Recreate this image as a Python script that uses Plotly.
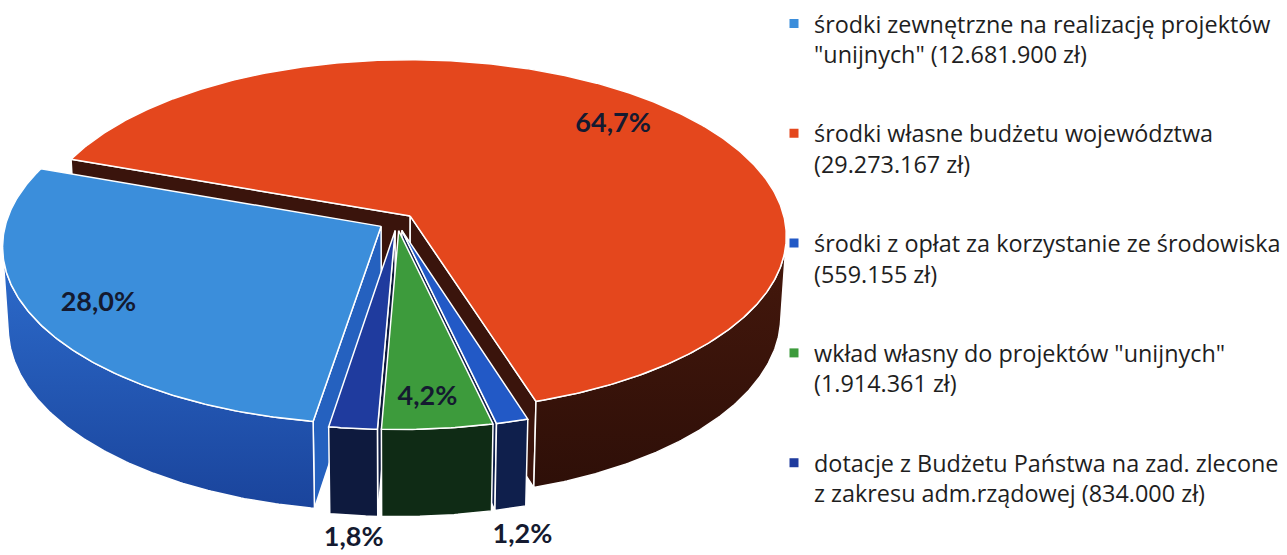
import numpy as np
import plotly.graph_objects as go

# ---------------- data ----------------
categories = [
    'środki zewnętrzne na realizację projektów<br>"unijnych" (12.681.900 zł)',
    'środki własne budżetu województwa<br>(29.273.167 zł)',
    'środki z opłat za korzystanie ze środowiska<br>(559.155 zł)',
    'wkład własny do projektów "unijnych"<br>(1.914.361 zł)',
    'dotacje z Budżetu Państwa na zad. zlecone<br>z zakresu adm.rządowej (834.000 zł)',
]
values = [12681900, 29273167, 559155, 1914361, 834000]

# ---------------- style ----------------
top_colors = ['#3b8edb', '#e4471d', '#2259c6', '#3d9b3c', '#1f3b9e']
side_colors = ['#2561bf', '#3a140c', '#0f1f4c', '#0f2b15', '#0e1a3e']
side_grad = {0: [[0, '#1a449c'], [1, '#2d6ccc']], 1: [[0, '#2e0f08'], [1, '#45180c']]}
label_color = '#141a30'

W, H = 1287, 555
CX, CY = 397, 222          # screen position of pie centre
S = 375                    # screen scale (px per radius)
K = 8.0                    # camera distance in radii
ALPHA = np.radians(27.8)   # elevation
DEPTH = 0.245              # pie thickness in radii
EXPLODE = 0.049            # pull of each slice in radii
START = 189.0              # start angle of first slice (deg, clockwise from back)
LABEL_R = [0.83, 0.8, None, 0.88, None]      # None -> label outside, below the slice
LABEL_NUDGE = {2: (12, 28), 3: (-5, -4), 4: (0, 24)}

ca, sa = np.cos(ALPHA), np.sin(ALPHA)
CAM = np.array([0.0, -K * ca, K * sa])


def proj(X, Y, Z):
    X = np.asarray(X, float); Y = np.asarray(Y, float); Z = np.asarray(Z, float)
    depth = K + Y * ca - Z * sa
    px = S * K * X / depth
    py = S * K * (Y * sa + Z * ca) / depth
    return CX + px, CY - py, depth


total = float(sum(values))
fracs = [v / total for v in values]
angles = []
a = START
for f in fracs:
    angles.append((a, a + f * 360.0))
    a += f * 360.0

walls = []   # (depth, xs, ys, color, idx, outer)
tops = []
label_pos = []

for i, (a0, a1) in enumerate(angles):
    m = np.radians((a0 + a1) / 2)
    ox, oy = EXPLODE * np.sin(m), EXPLODE * np.cos(m)
    th = np.radians(np.linspace(a0, a1, max(8, int((a1 - a0) * 2))))
    rx, ry = ox + np.sin(th), oy + np.cos(th)

    # top face
    X = np.concatenate([[ox], rx, [ox]])
    Y = np.concatenate([[oy], ry, [oy]])
    xs, ys, _ = proj(X, Y, np.zeros_like(X))
    tops.append((xs, ys, top_colors[i]))

    # outer wall: visible samples
    vis = (np.sin(th) * (CAM[0] - rx) + np.cos(th) * (CAM[1] - ry)) > 0
    idx = np.where(vis)[0]
    if len(idx) > 1:
        groups = np.split(idx, np.where(np.diff(idx) != 1)[0] + 1)
        for g in groups:
            if len(g) < 2:
                continue
            tx, ty, td = proj(rx[g], ry[g], np.zeros(len(g)))
            bx, by, _ = proj(rx[g], ry[g], -DEPTH * np.ones(len(g)))
            walls.append((td.mean(), np.concatenate([tx, bx[::-1], tx[:1]]),
                          np.concatenate([ty, by[::-1], ty[:1]]), side_colors[i], i, True))

    # radial walls
    for ang, sign in ((a0, -1), (a1, 1)):
        t = np.radians(ang)
        n = np.array([sign * np.cos(t), -sign * np.sin(t), 0.0])
        pm = np.array([ox + 0.5 * np.sin(t), oy + 0.5 * np.cos(t), -DEPTH / 2])
        if np.dot(n, CAM - pm) > 0:
            QX = [ox, ox + np.sin(t), ox + np.sin(t), ox, ox]
            QY = [oy, oy + np.cos(t), oy + np.cos(t), oy, oy]
            QZ = [0, 0, -DEPTH, -DEPTH, 0]
            qx, qy, qd = proj(QX, QY, QZ)
            walls.append((qd.mean(), qx, qy, side_colors[i], i, False))

    # label
    pct = fracs[i] * 100
    r = LABEL_R[i]
    if r is not None:
        lx, ly, _ = proj(ox + r * np.sin(m), oy + r * np.cos(m), 0)
    else:
        lx, ly, _ = proj(ox + np.sin(m), oy + np.cos(m), -DEPTH)
    dx, dy = LABEL_NUDGE.get(i, (0, 0))
    label_pos.append((float(lx + dx), float(ly + dy), f"{pct:.1f}%".replace('.', ',')))

fig = go.Figure()

for d, xs, ys, c, i, outer in sorted(walls, key=lambda w: -w[0]):
    kw = dict(fillcolor=c)
    if outer and i in side_grad:
        kw = dict(fillgradient=dict(type='vertical', colorscale=side_grad[i]))
    fig.add_trace(go.Scatter(x=xs, y=ys, mode='lines', fill='toself',
                             line=dict(color='white', width=1.5), hoverinfo='skip',
                             showlegend=False, **kw))
for xs, ys, c in tops:
    fig.add_trace(go.Scatter(x=xs, y=ys, mode='lines', fill='toself', fillcolor=c,
                             line=dict(color='white', width=1.5), hoverinfo='skip',
                             showlegend=False))

fig.add_trace(go.Scatter(
    x=[p[0] for p in label_pos], y=[p[1] for p in label_pos],
    text=[f"<b>{p[2]}</b>" for p in label_pos], mode='text',
    textfont=dict(family='Lato', size=27, color=label_color),
    hoverinfo='skip', showlegend=False))

for i, name in enumerate(categories):
    fig.add_trace(go.Scatter(x=[None], y=[None], mode='markers', name=name,
                             legendgroup=str(i),
                             marker=dict(symbol='square', size=9, color=top_colors[i])))

fig.update_layout(
    width=W, height=H, margin=dict(l=0, r=0, t=0, b=0, autoexpand=False),
    paper_bgcolor='white', plot_bgcolor='white',
    xaxis=dict(range=[0, W], visible=False, fixedrange=True),
    yaxis=dict(range=[H, 0], visible=False, fixedrange=True),
    legend=dict(x=0.6014, y=0.997, xanchor='left', yanchor='top', valign='top',
                font=dict(family='Open Sans', size=23.4, color='#1e1e1e'),
                tracegroupgap=46, itemwidth=30, bgcolor='rgba(0,0,0,0)'),
    showlegend=True,
)

fig.write_html("out.html", config={'displayModeBar': False},
               post_script="document.body.style.margin='0';")
